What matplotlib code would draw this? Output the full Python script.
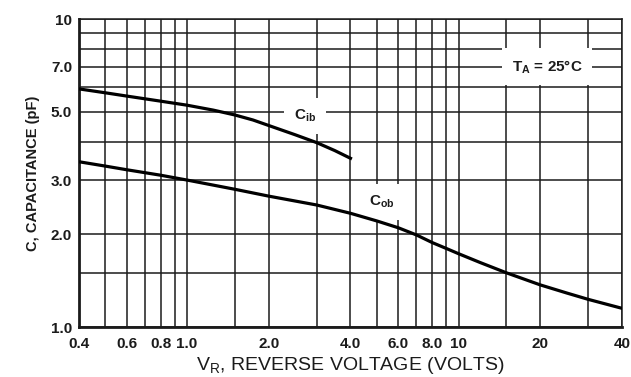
import matplotlib
matplotlib.use("Agg")
import matplotlib.pyplot as plt
from matplotlib.ticker import FixedLocator, FixedFormatter, NullLocator

# reverse voltage (V) and capacitance (pF)
vr_ib = [0.4, 0.5, 0.6, 0.8, 1.0, 1.25, 1.5, 1.75, 2.0, 2.5, 3.0, 3.5, 4.0]
c_ib = [5.93, 5.76, 5.62, 5.41, 5.25, 5.06, 4.88, 4.70, 4.51, 4.21, 3.97, 3.74, 3.53]

vr_ob = [0.4, 0.5, 0.6, 0.8, 1.0, 1.5, 2.0, 3.0, 4.0, 5.0, 6.0, 7.0, 8.0, 9.0, 10, 12, 15, 20, 25, 30, 40]
c_ob = [3.44, 3.33, 3.24, 3.11, 3.00, 2.80, 2.66, 2.49, 2.34, 2.21, 2.10, 1.99, 1.88, 1.80, 1.73,
        1.62, 1.50, 1.37, 1.29, 1.23, 1.15]

x_grid = [0.4, 0.5, 0.6, 0.7, 0.8, 0.9, 1.0, 1.5, 2.0, 3.0, 4.0, 5.0, 6.0, 7.0, 8.0, 9.0, 10, 15, 20, 30, 40]
x_labels = ["0.4", "", "0.6", "", "0.8", "", "1.0", "", "2.0", "", "4.0", "", "6.0", "", "8.0", "", "10", "", "20", "", "40"]
y_grid = [1.0, 1.5, 2.0, 3.0, 4.0, 5.0, 6.0, 7.0, 8.0, 9.0, 10]
y_labels = ["1.0", "", "2.0", "3.0", "", "5.0", "", "7.0", "", "", "10"]

ink = "#1b1b1b"
plt.rcParams['font.family'] = ['Liberation Sans', 'DejaVu Sans']

fig = plt.figure(figsize=(6.31, 3.77), dpi=100)
ax = fig.add_axes([0.1252, 0.1326, 0.8605, 0.817])
ax.set_xscale("log")
ax.set_yscale("log")
ax.set_xlim(0.4, 40)
ax.set_ylim(1.0, 10)

ax.xaxis.set_major_locator(FixedLocator(x_grid))
ax.xaxis.set_major_formatter(FixedFormatter(x_labels))
ax.xaxis.set_minor_locator(NullLocator())
ax.yaxis.set_major_locator(FixedLocator(y_grid))
ax.yaxis.set_major_formatter(FixedFormatter(y_labels))
ax.yaxis.set_minor_locator(NullLocator())
ax.tick_params(length=0, labelsize=11, colors=ink)
ax.tick_params(axis="x", pad=7)
ax.tick_params(axis="y", pad=5)
for lab in ax.get_xticklabels() + ax.get_yticklabels():
    lab.set_fontweight("bold")

ax.grid(True, color=ink, linewidth=1.1)
ax.set_axisbelow(True)
for side in ["left", "bottom"]:
    ax.spines[side].set_linewidth(2.0)
for side in ["top", "right"]:
    ax.spines[side].set_linewidth(1.1)
for sp in ax.spines.values():
    sp.set_color(ink)

ax.plot(vr_ib, c_ib, color="black", linewidth=2.3, solid_joinstyle="round", zorder=5)
ax.plot(vr_ob, c_ob, color="black", linewidth=2.3, solid_joinstyle="round", zorder=5)

ax.text(2.72, 4.85, "C$_{\\mathregular{ib}}$", fontsize=11, fontweight="bold",
        ha="center", va="center", color=ink,
        bbox=dict(facecolor="white", edgecolor="none", pad=7), zorder=4)
ax.text(5.22, 2.55, "C$_{\\mathregular{ob}}$", fontsize=11, fontweight="bold",
        ha="center", va="center", color=ink,
        bbox=dict(facecolor="white", edgecolor="none", pad=7), zorder=4)
ax.text(21.2, 7.0, "T$_{\\mathregular{A}}$ = 25°C", fontsize=11, fontweight="bold",
        ha="center", va="center", color=ink,
        bbox=dict(facecolor="white", edgecolor="none", pad=7), zorder=4)

ax.set_xlabel("V$_{\\mathregular{R}}$, REVERSE VOLTAGE (VOLTS)", fontsize=14, color=ink, labelpad=3)
ax.set_ylabel("C, CAPACITANCE (pF)", fontsize=10.5, fontweight="bold", color=ink, labelpad=8,
              family=["Liberation Sans Narrow", "Liberation Sans", "DejaVu Sans"])

fig.savefig("out.png", dpi=100)
